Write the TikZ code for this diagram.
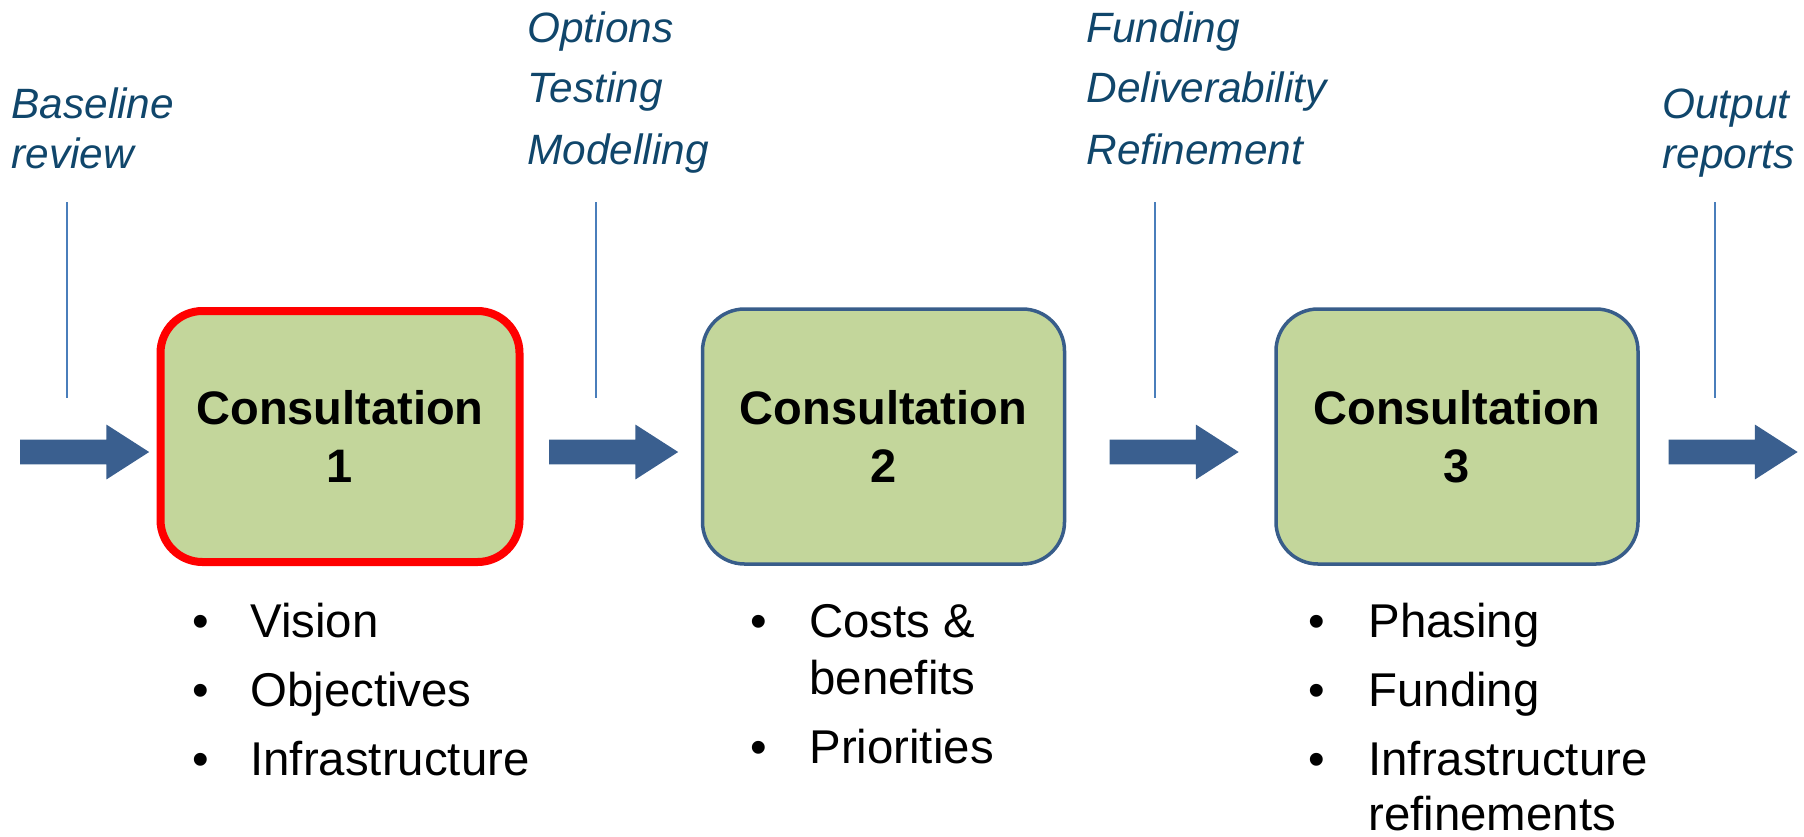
\documentclass[tikz,border=0pt]{standalone}
\usepackage{fontspec}
\setmainfont{Liberation Sans}
\usetikzlibrary{shapes.arrows}
\definecolor{stagefill}{HTML}{C3D69B}
\definecolor{stageline}{HTML}{385D8A}
\definecolor{flowcol}{HTML}{3A5F8F}
\definecolor{tickcol}{HTML}{4A7EBB}
\definecolor{notecol}{HTML}{10466B}
\begin{document}
\begin{tikzpicture}[x=0.5pt, y=-0.5pt,
  stage/.style={rectangle, rounded corners=21pt, fill=stagefill, draw=stageline, line width=1.75pt, minimum width=181pt, minimum height=127.5pt, align=center, inner sep=0pt, font=\fontsize{23.5}{29}\selectfont\bfseries},
  current/.style={draw=red, line width=4pt, minimum width=179.5pt, minimum height=125.5pt},
  flow/.style={shape=single arrow, fill=flowcol, inner xsep=0pt, inner ysep=6pt, minimum height=64.5pt, minimum width=27pt, single arrow head extend=7.5pt, single arrow tip angle=65.4, single arrow head indent=0pt},
  tick/.style={tickcol, line width=1pt},
  note/.style={anchor=base west, inner sep=0pt, text=notecol, font=\fontsize{21.2}{26}\selectfont\itshape},
  dot/.style={anchor=base, inner sep=0pt, font=\fontsize{23.7}{28}\selectfont},
  point/.style={anchor=base west, inner sep=0pt, font=\fontsize{23.7}{28}\selectfont}]
\useasboundingbox (0,0) rectangle (1804,836);

\node[stage, current] (con1) at (340,436.5) {Consultation\\1};
\node[stage] (con2) at (883.5,436.5) {Consultation\\2};
\node[stage] (con3) at (1457,436.5) {Consultation\\3};

\node[flow] (flow0) at (75,452) {};
\node[flow] (flow1) at (604,452) {};
\node[flow] (flow2) at (1164.5,452) {};
\node[flow] (flow3) at (1723.5,452) {};

\node[note] (base1) at (11,118) {Baseline};
\node[note] (base2) at (11,168) {review};
\node[note] (opt1) at (527,42) {Options};
\node[note] (opt2) at (527,102) {Testing};
\node[note] (opt3) at (527,164) {Modelling};
\node[note] (fund1) at (1086,42) {Funding};
\node[note] (fund2) at (1086,102) {Deliverability};
\node[note] (fund3) at (1086,164) {Refinement};
\node[note] (out1) at (1662,118) {Output};
\node[note] (out2) at (1662,168) {reports};

\coordinate (tick0a) at (67,202);
\coordinate (tick0b) at (67,398);
\coordinate (tick1a) at (596,202);
\coordinate (tick1b) at (596,398);
\coordinate (tick2a) at (1155,202);
\coordinate (tick2b) at (1155,398);
\coordinate (tick3a) at (1715,202);
\coordinate (tick3b) at (1715,398);
\draw[tick] (tick0a) -- (tick0b);
\draw[tick] (tick1a) -- (tick1b);
\draw[tick] (tick2a) -- (tick2b);
\draw[tick] (tick3a) -- (tick3b);

\node[dot] (dot11) at (201,637) {•};
\node[point] (vis) at (250,637) {Vision};
\node[dot] (dot12) at (201,706) {•};
\node[point] (obj) at (250,706) {Objectives};
\node[dot] (dot13) at (201,775) {•};
\node[point] (inf) at (250,775) {Infrastructure};

\node[dot] (dot21) at (759,637) {•};
\node[point] (cost) at (809,637) {Costs \&};
\node[point] (bene) at (809,694) {benefits};
\node[dot] (dot22) at (759,763) {•};
\node[point] (prio) at (809,763) {Priorities};

\node[dot] (dot31) at (1317,637) {•};
\node[point] (phas) at (1368,637) {Phasing};
\node[dot] (dot32) at (1317,706) {•};
\node[point] (fund) at (1368,706) {Funding};
\node[dot] (dot33) at (1317,775) {•};
\node[point] (infr) at (1368,775) {Infrastructure};
\node[point] (refi) at (1368,830) {refinements};

\end{tikzpicture}
\end{document}
